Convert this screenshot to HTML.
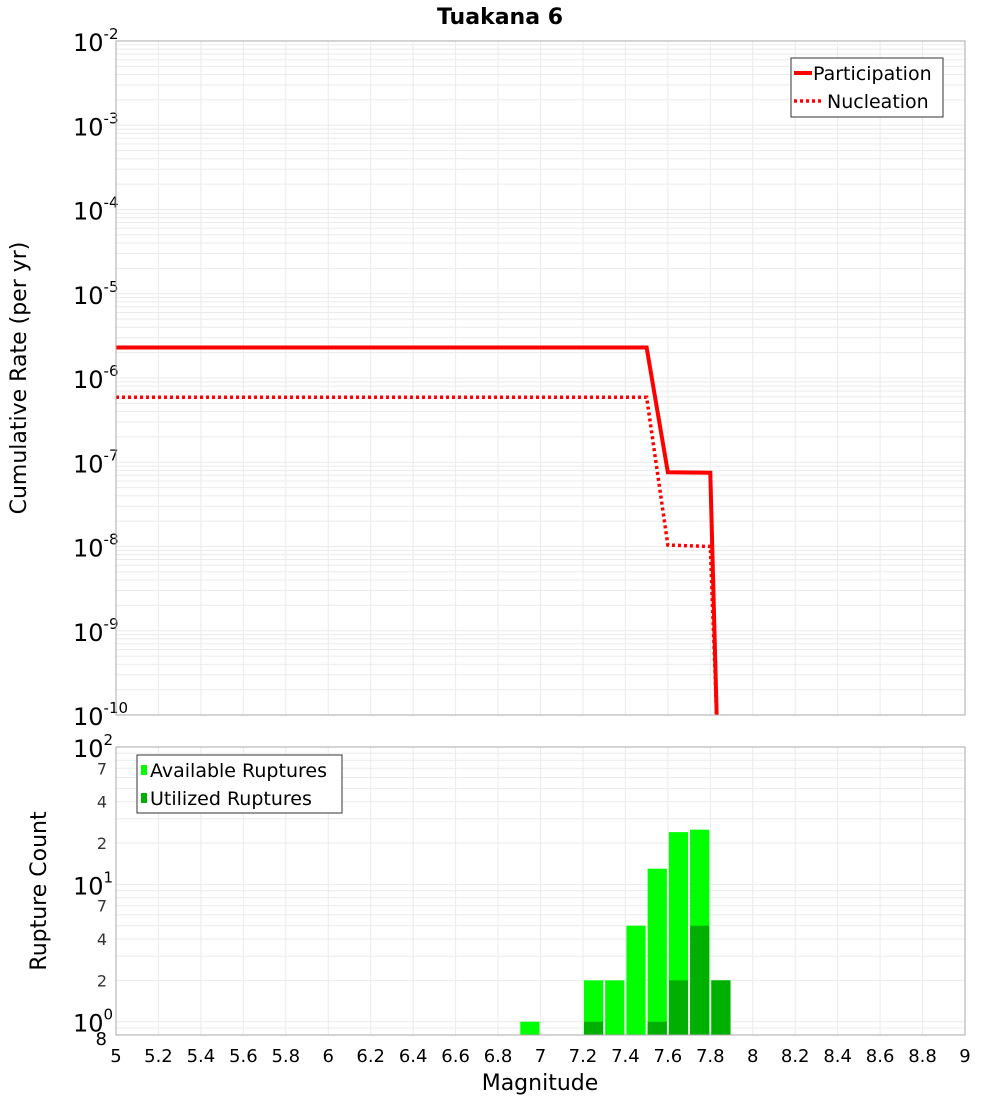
<!DOCTYPE html>
<html><head><meta charset="utf-8"><style>
body{margin:0;background:#fff;font-family:"Liberation Sans","DejaVu Sans",sans-serif}
svg text{font-family:"DejaVu Sans","Liberation Sans",sans-serif}
</style></head><body>
<svg id="c" width="1000" height="1100" xmlns="http://www.w3.org/2000/svg"></svg>
<script>
const magX=[5,7.5,7.6,7.8,7.83];
const partY=[2.3e-6,2.3e-6,7.6e-8,7.5e-8,1e-10];
const nuclY=[5.9e-7,5.9e-7,1.04e-8,1.0e-8,1e-10];
const binCenters=[6.95,7.25,7.35,7.45,7.55,7.65,7.75,7.85];
const available=[1,2,2,5,13,24,25,2];
const utilized=[0,1,0,0,1,2,5,2];
const xTicks=[5,5.2,5.4,5.6,5.8,6,6.2,6.4,6.6,6.8,7,7.2,7.4,7.6,7.8,8,8.2,8.4,8.6,8.8,9];
const topExp=[-2,-3,-4,-5,-6,-7,-8,-9,-10];
const botMinor=[2,4,7];

const NS="http://www.w3.org/2000/svg",svg=document.getElementById('c');
function mk(t,a,p){const e=document.createElementNS(NS,t);for(const k in a)e.setAttribute(k,a[k]);(p||svg).appendChild(e);return e;}
const L=116,R=965;
const X=v=>L+(v-5)/4*(R-L);
const T0=41,T1=715,YT=v=>T0+(-2-Math.log10(v))/8*(T1-T0);
const B0=747,B1=1035,lmin=Math.log10(0.8),YB=v=>B0+(2-Math.log10(v))/(2-lmin)*(B1-B0);

const t=mk('text',{x:500,y:24,'text-anchor':'middle','font-size':22,'font-weight':'bold'});t.textContent='Tuakana 6';


// top grid
const gt=mk('g',{stroke:'#ebebeb','stroke-width':1});

xTicks.forEach(v=>mk('line',{x1:X(v),x2:X(v),y1:T0,y2:T1},gt));
for(let e=-10;e<-2;e++)for(let m=1;m<10;m++){const y=YT(m*Math.pow(10,e));mk('line',{x1:L,x2:R,y1:y,y2:y},gt);}
// bottom grid
const gb=mk('g',{stroke:'#ebebeb','stroke-width':1});

xTicks.forEach(v=>mk('line',{x1:X(v),x2:X(v),y1:B0,y2:B1},gb));
[0.8,0.9,1,2,3,4,5,6,7,8,9,10,20,30,40,50,60,70,80,90].forEach(v=>{const y=YB(v);mk('line',{x1:L,x2:R,y1:y,y2:y},gb);});

// top ticks
topExp.forEach(e=>{const y=YT(Math.pow(10,e));const tx=mk('text',{x:73,y:y+10,'font-size':24});
tx.innerHTML='10<tspan dy="-12" font-size="15">'+e+'</tspan>';
});
// bottom ticks
[2,1,0].forEach(e=>{const y=YB(Math.pow(10,e));const tx=mk('text',{x:73,y:y+10,'font-size':24});
tx.innerHTML='10<tspan dy="-12" font-size="15">'+e+'</tspan>';
});
[1,10].forEach(d=>botMinor.forEach(m=>{const tx=mk('text',{x:107,y:YB(m*d)+6,'font-size':16,'text-anchor':'end',fill:'#333'});tx.textContent=m;
}));
const t8=mk('text',{x:107,y:YB(0.8)+10,'font-size':18,'text-anchor':'end'});t8.textContent='8';

xTicks.forEach(v=>{const tx=mk('text',{x:X(v),y:1062,'font-size':18,'text-anchor':'middle'});tx.textContent=String(v);
});

// axis titles
let a=mk('text',{x:540,y:1090,'font-size':22,'text-anchor':'middle'});a.textContent='Magnitude';

a=mk('text',{x:0,y:0,'font-size':22,'text-anchor':'middle',transform:'translate(26,378) rotate(-90)'});a.textContent='Cumulative Rate (per yr)';

a=mk('text',{x:0,y:0,'font-size':22,'text-anchor':'middle',transform:'translate(46,891) rotate(-90)'});a.textContent='Rupture Count';


// lines
mk('clipPath',{id:'ct'},mk('defs',{}));
const cp=document.getElementById('ct');mk('rect',{x:L,y:T0,width:R-L,height:T1-T0},cp);
const pts=ys=>magX.map((x,i)=>X(x)+','+YT(ys[i])).join(' ');
let p=mk('polyline',{points:pts(nuclY),fill:'none',stroke:'#f00','stroke-width':3.5,'stroke-dasharray':'3,3','clip-path':'url(#ct)'});

p=mk('polyline',{points:pts(partY),fill:'none',stroke:'#f00','stroke-width':4,'clip-path':'url(#ct)'});


// bars
const bw=X(0.1+5)-X(5);
binCenters.forEach((c,i)=>{
  if(available[i]>0){const y=YB(available[i]);const r=mk('rect',{x:X(c)-bw/2+1,y:y,width:bw-2,height:B1-y,fill:'#00ff00'});
  }
  if(utilized[i]>0){const y=YB(utilized[i]);const r=mk('rect',{x:X(c)-bw/2+1,y:y,width:bw-2,height:B1-y,fill:'#00b000'});
  }
});

// frames
let f=mk('rect',{x:L,y:T0,width:R-L,height:T1-T0,fill:'none',stroke:'#aaa'});
f=mk('rect',{x:L,y:B0,width:R-L,height:B1-B0,fill:'none',stroke:'#aaa'});

// legends
let lg=mk('g',{});
mk('rect',{x:791,y:58,width:152,height:59,fill:'#fff',stroke:'#333'},lg);
mk('line',{x1:794,x2:812,y1:73,y2:73,stroke:'#f00','stroke-width':4},lg);
mk('line',{x1:794,x2:821,y1:101,y2:101,stroke:'#f00','stroke-width':3.5,'stroke-dasharray':'3,3'},lg);
let lt=mk('text',{x:813,y:80,'font-size':19},lg);lt.textContent='Participation';
lt=mk('text',{x:827,y:108,'font-size':19},lg);lt.textContent='Nucleation';
lg=mk('g',{});
mk('rect',{x:137,y:755,width:205,height:58,fill:'#fff',stroke:'#333'},lg);
mk('rect',{x:141,y:765,width:6,height:10,fill:'#00ff00'},lg);
mk('rect',{x:141,y:793,width:6,height:10,fill:'#00b000'},lg);
lt=mk('text',{x:150,y:777,'font-size':19},lg);lt.textContent='Available Ruptures';
lt=mk('text',{x:150,y:805,'font-size':19},lg);lt.textContent='Utilized Ruptures';
</script>
</body></html>
